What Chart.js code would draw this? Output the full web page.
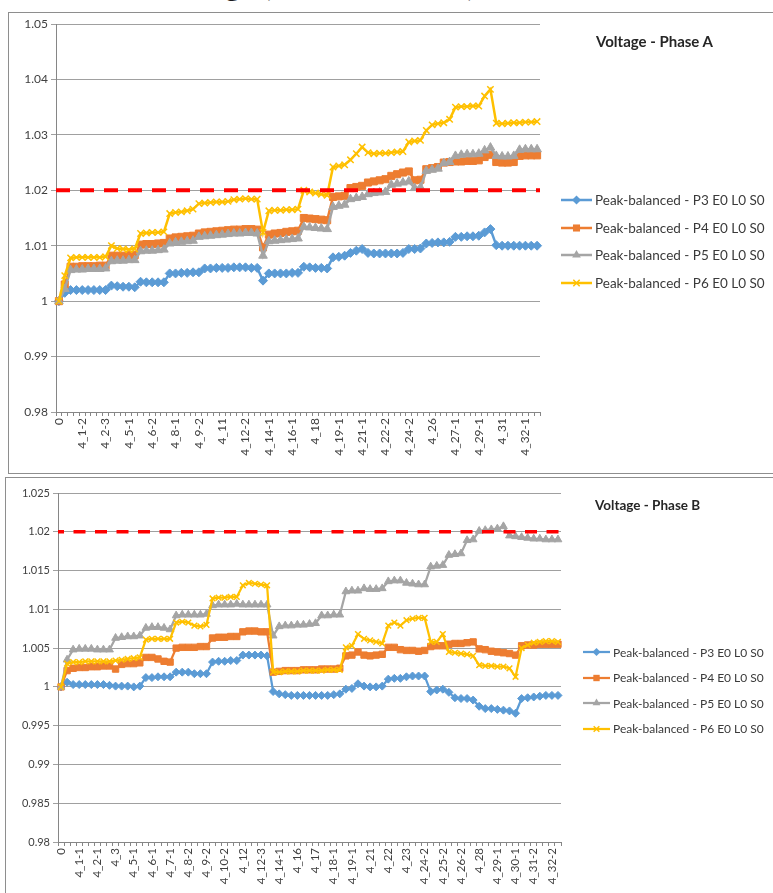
<!DOCTYPE html>
<html>
<head>
<meta charset="utf-8">
<title>Voltage - Phase A / Phase B</title>
<script src="https://cdn.jsdelivr.net/npm/chart.js@4.4.1/dist/chart.umd.min.js"></script>
<style>
  html, body { margin: 0; padding: 0; background: #fff; }
  body { position: relative; width: 773px; height: 893px; overflow: hidden; font-family: Lato, "Open Sans", sans-serif; color: #404040; }
  .frame { position: absolute; border: 1px solid #8e8e8e; background: #fff; }
  .frame canvas { position: absolute; left: 0; top: 0; }
  .caption { position: absolute; font-weight: bold; color: #262626; white-space: nowrap; }
  .legend-row { position: absolute; display: flex; align-items: center; white-space: nowrap; color: #3a3a3a; }
  .legend-row canvas { display: block; }
  #mainTitle { position: absolute; left: 155px; top: -34px; font-size: 30px; line-height: 36px; font-weight: bold; color: #1a1a1a; white-space: nowrap; }
</style>
</head>
<body>
<div id="mainTitle">Voltage (Peak-balanced)</div>

<div class="frame" style="left:8px; top:12px; width:800px; height:460px;">
  <canvas id="chartA" width="764" height="459"></canvas>
</div>
<div class="frame" style="left:5px; top:477px; width:800px; height:430px;">
  <canvas id="chartB" width="767" height="415"></canvas>
</div>

<div class="caption" style="left:596px; top:32px; font-size:15px; line-height:18px;">Voltage - Phase A</div>
<div class="caption" style="left:595px; top:497px; font-size:13.5px; line-height:17px;">Voltage - Phase B</div>

<div id="legendA"></div>
<div id="legendB"></div>

<script>
const categories = [
  "0", "4_0-1", "4_0-2", "4_1-1", "4_1-2", "4_1-3", "4_2-1", "4_2-2", "4_2-3", "4_3",
  "4_4-1", "4_4-2", "4_5-1", "4_5-2", "4_5-3", "4_6-1", "4_6-2", "4_6-3", "4_7-1", "4_7-2",
  "4_8-1", "4_8-2", "4_8-3", "4_9-1", "4_9-2", "4_9-3", "4_10-1", "4_10-2", "4_11", "4_11-1",
  "4_12", "4_12-1", "4_12-2", "4_12-3", "4_13-1", "4_13-2", "4_14-1", "4_14-2", "4_15", "4_16",
  "4_16-1", "4_16-2", "4_17", "4_17-1", "4_18", "4_18-1", "4_18-2", "4_18-3", "4_19-1", "4_19-2",
  "4_20", "4_21", "4_21-1", "4_21-2", "4_22", "4_22-1", "4_22-2", "4_23", "4_23-1", "4_24-1",
  "4_24-2", "4_24-3", "4_25-1", "4_25-2", "4_26", "4_26-1", "4_26-2", "4_26-3", "4_27-1", "4_28",
  "4_28-1", "4_28-2", "4_29-1", "4_29-2", "4_30", "4_30-1", "4_31", "4_31-1", "4_31-2", "4_32",
  "4_32-1", "4_32-2", "4_32-3"
];

const seriesNames = [
  "Peak-balanced - P3 E0 L0 S0",
  "Peak-balanced - P4 E0 L0 S0",
  "Peak-balanced - P5 E0 L0 S0",
  "Peak-balanced - P6 E0 L0 S0"
];
const seriesColors = ["#5B9BD5", "#ED7D31", "#A5A5A5", "#FFC000"];
const markerStyles = ["rectRot", "rect", "triangle", "crossRot"];

// Phase A
const phaseA_P3 = [
  1.0000, 1.0015,
  1.0020, 1.0020, 1.0020, 1.0020, 1.0020, 1.0020, 1.0020,
  1.0028, 1.0027, 1.0026, 1.0026, 1.0025,
  1.0035, 1.0034, 1.0034, 1.0034, 1.0034,
  1.0050, 1.0050, 1.0051, 1.0051, 1.0052, 1.0052,
  1.0059, 1.0059, 1.0060, 1.0060, 1.0060, 1.0061, 1.0061, 1.0061, 1.0060, 1.0060,
  1.0037,
  1.0050, 1.0050, 1.0050, 1.0050, 1.0051, 1.0051,
  1.0062, 1.0061, 1.0060, 1.0060, 1.0059,
  1.0079, 1.0080, 1.0082,
  1.0087, 1.0091, 1.0094,
  1.0087, 1.0086, 1.0086, 1.0086, 1.0086, 1.0086, 1.0087,
  1.0094, 1.0094, 1.0095,
  1.0104, 1.0105, 1.0106, 1.0106, 1.0107,
  1.0116, 1.0116, 1.0117, 1.0117, 1.0118,
  1.0124, 1.0130,
  1.0101, 1.0100, 1.0100, 1.0100, 1.0100, 1.0100, 1.0100, 1.0100
];
const phaseA_P4 = [
  1.0000, 1.0030,
  1.0062, 1.0062, 1.0063, 1.0063, 1.0063, 1.0064, 1.0064,
  1.0082, 1.0082, 1.0082, 1.0083, 1.0083,
  1.0102, 1.0103, 1.0103, 1.0104, 1.0105,
  1.0113, 1.0115, 1.0116, 1.0117, 1.0118,
  1.0122, 1.0124, 1.0125, 1.0126, 1.0127, 1.0128, 1.0129, 1.0129, 1.0130, 1.0130, 1.0129,
  1.0097,
  1.0120, 1.0122, 1.0123, 1.0125, 1.0126, 1.0127,
  1.0150, 1.0149, 1.0148, 1.0147, 1.0146,
  1.0188, 1.0189, 1.0190,
  1.0204, 1.0206, 1.0208,
  1.0214, 1.0216, 1.0218, 1.0220,
  1.0226, 1.0229, 1.0232, 1.0234,
  1.0218, 1.0219,
  1.0238, 1.0240, 1.0242,
  1.0250, 1.0251, 1.0252, 1.0252, 1.0253, 1.0253, 1.0254,
  1.0260, 1.0264,
  1.0251, 1.0250, 1.0250, 1.0251,
  1.0262, 1.0263, 1.0263, 1.0263
];
const phaseA_P5 = [
  1.0000, 1.0022,
  1.0056, 1.0057, 1.0057, 1.0058, 1.0058, 1.0058, 1.0059,
  1.0072, 1.0073, 1.0073, 1.0074, 1.0074,
  1.0090, 1.0091, 1.0091, 1.0092, 1.0093,
  1.0104, 1.0106, 1.0107, 1.0108, 1.0109,
  1.0116, 1.0117, 1.0118, 1.0119, 1.0120, 1.0121, 1.0122, 1.0122, 1.0123, 1.0123, 1.0122,
  1.0082,
  1.0108, 1.0109, 1.0110, 1.0111, 1.0112, 1.0113,
  1.0134, 1.0133, 1.0132, 1.0131, 1.0130,
  1.0170, 1.0172, 1.0174,
  1.0184, 1.0186, 1.0188,
  1.0193, 1.0195, 1.0196, 1.0197,
  1.0210, 1.0212, 1.0214, 1.0216,
  1.0204, 1.0205,
  1.0235, 1.0237, 1.0239,
  1.0249, 1.0251,
  1.0262, 1.0264, 1.0265, 1.0265, 1.0266,
  1.0272, 1.0277,
  1.0262, 1.0261, 1.0261, 1.0262,
  1.0273, 1.0274, 1.0274, 1.0274
];
const phaseA_P6 = [
  1.0000, 1.0046,
  1.0078, 1.0079, 1.0079, 1.0079, 1.0079, 1.0079, 1.0080,
  1.0100,
  1.0095, 1.0094, 1.0093, 1.0094,
  1.0122, 1.0123, 1.0124, 1.0124, 1.0125,
  1.0158, 1.0160, 1.0161, 1.0163, 1.0166,
  1.0176, 1.0177, 1.0178, 1.0179, 1.0179, 1.0180,
  1.0183, 1.0184, 1.0185, 1.0184, 1.0184,
  1.0124,
  1.0163, 1.0164, 1.0164, 1.0165, 1.0165, 1.0166,
  1.0200, 1.0197, 1.0195, 1.0193, 1.0191,
  1.0242, 1.0244, 1.0246,
  1.0255, 1.0266, 1.0278,
  1.0268, 1.0266, 1.0267, 1.0267, 1.0268, 1.0269, 1.0270,
  1.0287, 1.0289, 1.0290,
  1.0308, 1.0318, 1.0320, 1.0322, 1.0328,
  1.0350, 1.0351, 1.0351, 1.0352, 1.0352,
  1.0370, 1.0382,
  1.0321, 1.0320, 1.0321, 1.0322, 1.0322, 1.0323, 1.0323, 1.0324
];

// Phase B
const phaseB_P3 = [
  1.0000, 1.0006,
  1.0003, 1.0003, 1.0003, 1.0003, 1.0003, 1.0003, 1.0002,
  1.0001, 1.0001, 1.0001, 1.0000, 1.0001,
  1.0012, 1.0012, 1.0013, 1.0013, 1.0013,
  1.0019, 1.0019, 1.0019,
  1.0017, 1.0017, 1.0017,
  1.0032, 1.0033, 1.0033, 1.0034, 1.0034,
  1.0041, 1.0041, 1.0041, 1.0041, 1.0040,
  0.9994,
  0.9991, 0.9990, 0.9989, 0.9989, 0.9989, 0.9989, 0.9989, 0.9989, 0.9989, 0.9990, 0.9991,
  0.9997, 0.9998,
  1.0004,
  1.0001, 1.0000, 1.0000, 1.0001,
  1.0010, 1.0011, 1.0011,
  1.0013, 1.0014, 1.0014, 1.0014,
  0.9994, 0.9996, 0.9997, 0.9993,
  0.9986, 0.9985, 0.9985, 0.9983,
  0.9975, 0.9972, 0.9972, 0.9971, 0.9970, 0.9969, 0.9966,
  0.9985, 0.9986, 0.9987, 0.9988, 0.9989, 0.9989, 0.9989
];
const phaseB_P4 = [
  1.0000, 1.0021,
  1.0024, 1.0025, 1.0025, 1.0026, 1.0026, 1.0027, 1.0027,
  1.0023,
  1.0029, 1.0030, 1.0030, 1.0031,
  1.0038, 1.0038, 1.0036,
  1.0033, 1.0032,
  1.0050, 1.0051, 1.0051, 1.0051, 1.0052, 1.0052,
  1.0063, 1.0064, 1.0064, 1.0065, 1.0065,
  1.0071, 1.0072, 1.0072, 1.0071, 1.0071,
  1.0019,
  1.0020, 1.0021, 1.0021, 1.0021, 1.0022, 1.0022, 1.0022, 1.0023, 1.0023, 1.0023, 1.0024,
  1.0040, 1.0041, 1.0045, 1.0041, 1.0040, 1.0041, 1.0042,
  1.0051, 1.0051,
  1.0048, 1.0047, 1.0047, 1.0046, 1.0047,
  1.0052, 1.0053, 1.0053,
  1.0055, 1.0056, 1.0056, 1.0057, 1.0058,
  1.0049, 1.0048, 1.0046, 1.0045, 1.0044, 1.0043, 1.0041,
  1.0053, 1.0054, 1.0054, 1.0055, 1.0055, 1.0055, 1.0055
];
const phaseB_P5 = [
  1.0000, 1.0035,
  1.0048, 1.0049, 1.0049, 1.0049, 1.0048, 1.0048, 1.0048,
  1.0063, 1.0064, 1.0065, 1.0065, 1.0066,
  1.0076, 1.0077, 1.0077, 1.0076, 1.0074,
  1.0092, 1.0093, 1.0093, 1.0093, 1.0093, 1.0094,
  1.0105, 1.0106, 1.0106, 1.0106, 1.0107, 1.0106, 1.0106, 1.0106, 1.0106, 1.0106,
  1.0066,
  1.0078, 1.0079, 1.0079, 1.0080, 1.0080, 1.0081, 1.0082,
  1.0092, 1.0092, 1.0093, 1.0093,
  1.0123, 1.0124, 1.0124,
  1.0127, 1.0126, 1.0126, 1.0127,
  1.0136, 1.0137, 1.0137,
  1.0134, 1.0133, 1.0132, 1.0132,
  1.0155, 1.0156, 1.0157,
  1.0170, 1.0171, 1.0172,
  1.0189, 1.0190,
  1.0201, 1.0202, 1.0203, 1.0204, 1.0207,
  1.0195, 1.0194, 1.0193, 1.0192, 1.0191, 1.0191, 1.0190, 1.0190, 1.0190
];
const phaseB_P6 = [
  1.0000, 1.0030,
  1.0032, 1.0032, 1.0033, 1.0033, 1.0033, 1.0033, 1.0033, 1.0034, 1.0035, 1.0036, 1.0037, 1.0038,
  1.0061, 1.0062, 1.0062, 1.0062, 1.0062,
  1.0083, 1.0084, 1.0083,
  1.0079, 1.0078, 1.0080,
  1.0114, 1.0115, 1.0115, 1.0116, 1.0116,
  1.0131, 1.0134, 1.0133, 1.0132, 1.0131,
  1.0019,
  1.0019, 1.0020, 1.0020, 1.0020, 1.0021, 1.0021, 1.0021, 1.0021, 1.0022, 1.0022, 1.0022,
  1.0051, 1.0053, 1.0068,
  1.0062, 1.0060, 1.0058, 1.0056,
  1.0079, 1.0083, 1.0079,
  1.0086, 1.0088, 1.0089, 1.0089,
  1.0058, 1.0058,
  1.0068,
  1.0045, 1.0044, 1.0043, 1.0042, 1.0040,
  1.0028, 1.0027, 1.0027, 1.0026, 1.0026, 1.0024,
  1.0013,
  1.0050, 1.0054, 1.0057, 1.0058, 1.0059, 1.0059, 1.0058
];

const yTicksA = [0.98, 0.99, 1, 1.01, 1.02, 1.03, 1.04, 1.05];
const yTicksB = [0.98, 0.985, 0.99, 0.995, 1, 1.005, 1.01, 1.015, 1.02, 1.025];
const limitA = 1.02;
const limitB = 1.02;

Chart.defaults.font.family = "Lato, 'Open Sans', sans-serif";
Chart.defaults.color = "#404040";

// red dashed limit across the plot area
const limitLine = {
  id: "limitLine",
  afterDatasetsDraw(chart, args, opts) {
    const y = chart.scales.y.getPixelForValue(opts.value);
    const area = chart.chartArea;
    const ctx = chart.ctx;
    ctx.save();
    ctx.strokeStyle = "#FF0000";
    ctx.lineWidth = opts.width;
    ctx.setLineDash(opts.dash);
    ctx.lineDashOffset = opts.offset || 0;
    ctx.beginPath();
    ctx.moveTo(area.left, y);
    ctx.lineTo(area.right, y);
    ctx.stroke();
    ctx.restore();
  },
};

function drawMarker(ctx, style, x, y, r, color) {
  ctx.fillStyle = color;
  ctx.strokeStyle = color;
  ctx.beginPath();
  if (style === "rectRot") {
    ctx.moveTo(x - r, y); ctx.lineTo(x, y - r); ctx.lineTo(x + r, y); ctx.lineTo(x, y + r);
    ctx.closePath(); ctx.fill();
  } else if (style === "rect") {
    const s = r * Math.SQRT1_2;
    ctx.rect(x - s, y - s, 2 * s, 2 * s); ctx.fill();
  } else if (style === "triangle") {
    for (let k = 0; k < 3; k++) {
      const a = k * 2 * Math.PI / 3;
      const px = x + Math.sin(a) * r, py = y - Math.cos(a) * r;
      if (k === 0) ctx.moveTo(px, py); else ctx.lineTo(px, py);
    }
    ctx.closePath(); ctx.fill();
  } else {
    const d = r * Math.SQRT1_2;
    ctx.lineWidth = 1.5;
    ctx.moveTo(x - d, y - d); ctx.lineTo(x + d, y + d);
    ctx.moveTo(x + d, y - d); ctx.lineTo(x - d, y + d);
    ctx.stroke();
  }
}

function buildLegend(containerId, cfg) {
  const box = document.getElementById(containerId);
  seriesNames.forEach((name, k) => {
    const row = document.createElement("div");
    row.className = "legend-row";
    row.style.left = cfg.left + "px";
    row.style.top = (cfg.top + k * cfg.pitch - 9) + "px";
    row.style.height = "18px";
    row.style.fontSize = cfg.fontSize + "px";
    const sw = document.createElement("canvas");
    sw.width = cfg.swatch;
    sw.height = 14;
    const c = sw.getContext("2d");
    c.strokeStyle = seriesColors[k];
    c.lineWidth = cfg.lineWidth;
    c.beginPath(); c.moveTo(0, 7); c.lineTo(cfg.swatch, 7); c.stroke();
    drawMarker(c, markerStyles[k], cfg.swatch / 2, 7, cfg.radii[k], seriesColors[k]);
    sw.style.marginRight = cfg.gap + "px";
    const label = document.createElement("span");
    label.textContent = name;
    row.appendChild(sw);
    row.appendChild(label);
    box.appendChild(row);
  });
}

function makeChart(canvasId, cfg) {
  const datasets = cfg.series.map((values, k) => ({
    label: seriesNames[k],
    data: values,
    borderColor: seriesColors[k],
    backgroundColor: seriesColors[k],
    borderWidth: cfg.lineWidth,
    pointStyle: markerStyles[k],
    pointRadius: cfg.radii[k],
    pointBackgroundColor: seriesColors[k],
    pointBorderColor: seriesColors[k],
    pointBorderWidth: k === 3 ? 1.5 : 1,
    tension: 0,
    order: 3 - k,
  }));

  return new Chart(document.getElementById(canvasId), {
    type: "line",
    data: { labels: categories, datasets: datasets },
    plugins: [limitLine],
    options: {
      responsive: false,
      animation: false,
      layout: { padding: { left: 0, top: cfg.padTop, right: cfg.padRight, bottom: 0 } },
      plugins: {
        legend: { display: false },
        tooltip: { enabled: false },
        limitLine: { value: cfg.limit, width: cfg.limitWidth, dash: cfg.dash, offset: cfg.dashOffset },
      },
      scales: {
        x: {
          offset: true,
          afterFit: (scale) => { scale.height = cfg.xHeight; },
          grid: { drawOnChartArea: false, offset: true, tickLength: 4, color: "#868686" },
          border: { color: "#868686" },
          ticks: {
            autoSkip: false,
            minRotation: 90,
            maxRotation: 90,
            padding: 2,
            color: "#404040",
            font: { size: cfg.xFont },
            callback: function (value, index) {
              return index % cfg.labelEvery === 0 ? this.getLabelForValue(value) : "";
            },
          },
        },
        y: {
          min: cfg.yTicks[0],
          max: cfg.yTicks[cfg.yTicks.length - 1],
          afterBuildTicks: (scale) => { scale.ticks = cfg.yTicks.map((v) => ({ value: v })); },
          afterFit: (scale) => { scale.width = cfg.yWidth; },
          grid: { color: "#a0a0a0", tickLength: 5 },
          border: { color: "#868686" },
          ticks: {
            padding: 3,
            color: "#404040",
            font: { size: cfg.yFont },
            callback: (v) => String(Number(v.toFixed(3))),
          },
        },
      },
    },
  });
}

makeChart("chartA", {
  series: [phaseA_P3, phaseA_P4, phaseA_P5, phaseA_P6],
  yTicks: yTicksA, limit: limitA, labelEvery: 4,
  padTop: 11, padRight: 233, yWidth: 47, xHeight: 60,
  lineWidth: 2.5, radii: [4.5, 5, 5, 4.5],
  limitWidth: 4, dash: [14, 10], dashOffset: 0,
  xFont: 12, yFont: 12,
});

makeChart("chartB", {
  series: [phaseB_P3, phaseB_P4, phaseB_P5, phaseB_P6],
  yTicks: yTicksB, limit: limitB, labelEvery: 3,
  padTop: 15, padRight: 212, yWidth: 52, xHeight: 51,
  lineWidth: 2.25, radii: [4, 4.5, 4.5, 4],
  limitWidth: 3.5, dash: [12, 9.5], dashOffset: 6,
  xFont: 11.5, yFont: 11,
});

buildLegend("legendA", { left: 561, top: 200, pitch: 27.6, fontSize: 13.5, swatch: 31, gap: 3, lineWidth: 2.5, radii: [4.5, 5, 5, 4.5] });
buildLegend("legendB", { left: 583, top: 652, pitch: 25.5, fontSize: 12, swatch: 27, gap: 3, lineWidth: 2.25, radii: [4, 4.5, 4.5, 4] });
</script>
</body>
</html>
